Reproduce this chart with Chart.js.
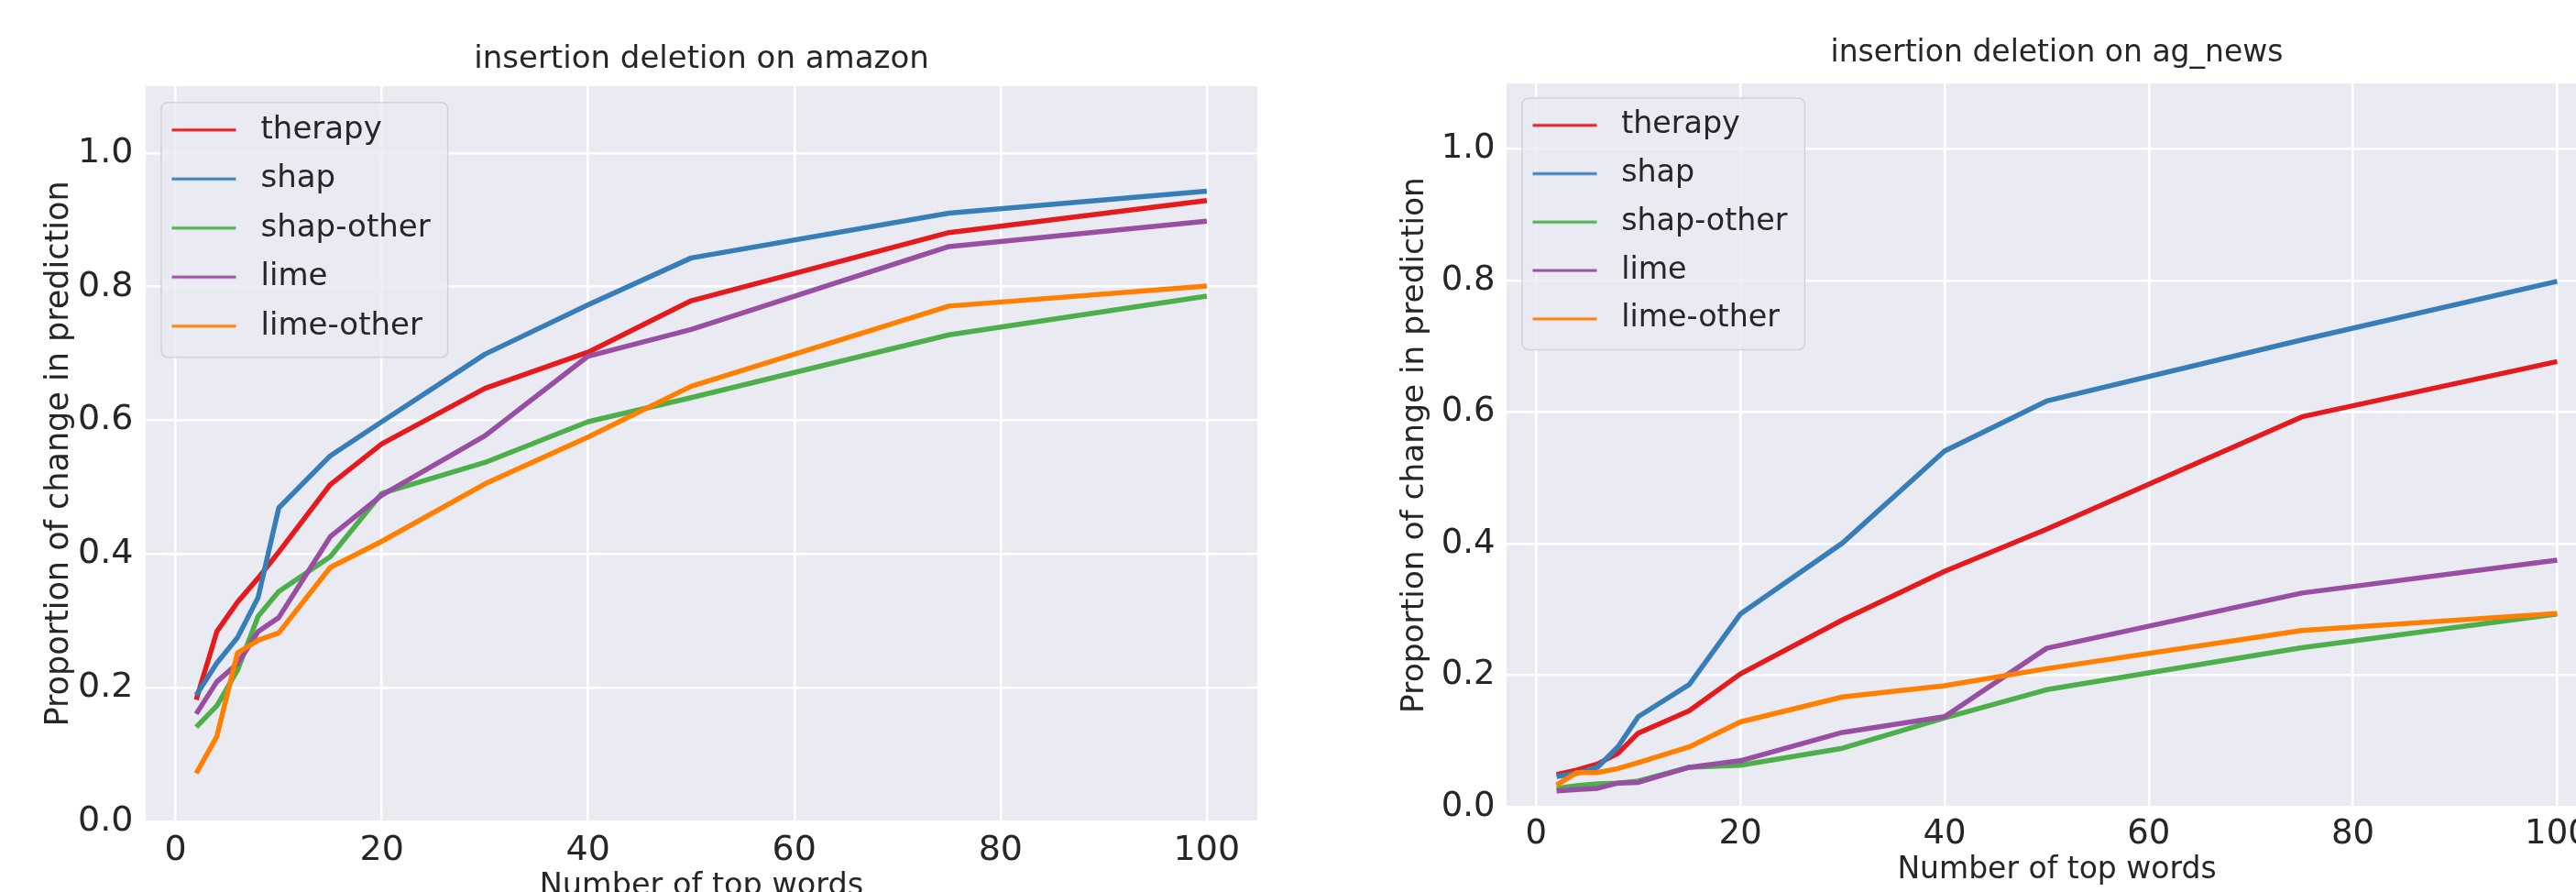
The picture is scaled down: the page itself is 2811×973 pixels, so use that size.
<!DOCTYPE html>
<html lang="en">
<head>
<meta charset="UTF-8">
<title>insertion deletion</title>
<script src="https://cdn.jsdelivr.net/npm/chart.js@4.4.0/dist/chart.umd.min.js"></script>
<style>
    html, body { margin: 0; padding: 0; overflow: hidden; background: #fff; }
    body { width: 2811px; height: 973px; position: relative; }
    canvas { position: absolute; top: 0; }
    #amazon { left: 0; }
    #agnews { left: 1480px; }
</style>
</head>
<body>
<canvas id="amazon" width="1400" height="1010"></canvas>
<canvas id="agnews" width="1365" height="973"></canvas>
<script>
const topWords = [2, 4, 6, 8, 10, 15, 20, 30, 40, 50, 75, 100];
const methods = ['therapy', 'shap', 'shap-other', 'lime', 'lime-other'];
const colors = ['#e41a1c', '#377eb8', '#4daf4a', '#984ea3', '#ff7f00'];
const xTicks = [0, 20, 40, 60, 80, 100];
const yTicks = [0, 0.2, 0.4, 0.6, 0.8, 1.0];

// amazon
const amazonTherapy   = [0.182, 0.284, 0.328, 0.364, 0.403, 0.504, 0.565, 0.648, 0.702, 0.779, 0.881, 0.929];
const amazonShap      = [0.189, 0.237, 0.275, 0.335, 0.469, 0.547, 0.598, 0.699, 0.773, 0.843, 0.910, 0.943];
const amazonShapOther = [0.141, 0.173, 0.226, 0.307, 0.344, 0.396, 0.491, 0.537, 0.598, 0.634, 0.728, 0.786];
const amazonLime      = [0.161, 0.209, 0.236, 0.284, 0.305, 0.426, 0.488, 0.577, 0.696, 0.736, 0.860, 0.898];
const amazonLimeOther = [0.072, 0.127, 0.252, 0.271, 0.282, 0.380, 0.419, 0.505, 0.575, 0.651, 0.771, 0.801];

// ag_news
const agTherapy   = [0.049, 0.056, 0.065, 0.081, 0.112, 0.146, 0.202, 0.284, 0.358, 0.422, 0.593, 0.677];
const agShap      = [0.046, 0.051, 0.060, 0.091, 0.137, 0.186, 0.293, 0.401, 0.541, 0.617, 0.710, 0.799];
const agShapOther = [0.028, 0.032, 0.035, 0.036, 0.039, 0.060, 0.063, 0.089, 0.135, 0.178, 0.242, 0.293];
const agLime      = [0.024, 0.026, 0.028, 0.036, 0.037, 0.060, 0.070, 0.113, 0.137, 0.241, 0.325, 0.375];
const agLimeOther = [0.033, 0.052, 0.052, 0.058, 0.067, 0.091, 0.129, 0.167, 0.184, 0.210, 0.268, 0.294];

Chart.defaults.font.family = 'DejaVu Sans';
Chart.defaults.color = '#262626';

// short coloured stroke used as the legend marker
function legendLine(color, width) {
    const c = document.createElement('canvas');
    c.width = 89; c.height = 6;
    const g = c.getContext('2d');
    g.strokeStyle = color;
    g.lineWidth = width;
    g.beginPath(); g.moveTo(9, 3); g.lineTo(79, 3); g.stroke();
    return c;
}

// seaborn style grey plot face
const plotBackground = {
    id: 'plotBackground',
    beforeDraw(chart) {
        const {ctx, chartArea: a} = chart;
        ctx.save();
        ctx.fillStyle = '#eaeaf2';
        ctx.fillRect(a.left, a.top, a.right - a.left, a.bottom - a.top);
        ctx.restore();
    }
};

// keep legend in the top left of the plot and give it a rounded frame
const legendFrame = {
    id: 'legendFrame',
    afterInit(chart) {
        const lg = chart.legend;
        const draw = lg.draw.bind(lg);
        lg.draw = function () {
            const b = lg.legendHitBoxes;
            if (b && b.length) {
                const ctx = chart.ctx;
                const l = Math.min(...b.map(h => h.left)) - 2.5;
                const t = Math.min(...b.map(h => h.top)) - 13;
                const r = Math.max(...b.map(h => h.left + h.width)) + 19;
                const bt = Math.max(...b.map(h => h.top + h.height)) + 17;
                ctx.save();
                ctx.beginPath();
                ctx.roundRect(l, t, r - l, bt - t, 7);
                ctx.fillStyle = 'rgba(234,234,242,0.8)';
                ctx.fill();
                ctx.strokeStyle = 'rgba(204,204,204,0.8)';
                ctx.lineWidth = 1.5;
                ctx.stroke();
                ctx.restore();
            }
            draw();
        };
    },
    afterLayout(chart) {
        const lg = chart.legend, a = chart.chartArea;
        const dx = a.left - lg.left, dy = a.top - lg.top;
        lg.left += dx; lg.right += dx; lg.top += dy; lg.bottom += dy;
    }
};

function buildChart(id, titleText, series, g) {
    const datasets = methods.map((m, i) => ({
        label: m,
        data: topWords.map((x, j) => ({x: x, y: series[i][j]})),
        borderColor: colors[i],
        backgroundColor: colors[i],
        borderWidth: g.line,
        borderJoinStyle: 'round',
        pointRadius: 0,
        pointHoverRadius: 0,
        pointStyle: legendLine(colors[i], 2.8),
        tension: 0,
        order: methods.length - i
    }));

    return new Chart(document.getElementById(id), {
        type: 'line',
        data: {datasets: datasets},
        plugins: [plotBackground, legendFrame],
        options: {
            responsive: false,
            animation: false,
            layout: {padding: {left: 0, right: g.padRight, top: 0, bottom: 0}},
            plugins: {
                title: {
                    display: true, text: titleText, fullSize: false,
                    font: {size: g.titleSize, weight: 'normal'},
                    padding: {top: g.titleTop, bottom: g.titleBottom}
                },
                legend: {
                    position: 'chartArea', align: 'start',
                    title: {display: true, text: ' ', font: {size: 1, lineHeight: 1}, padding: {top: g.legendTop - 1, bottom: 0}},
                    labels: {
                        usePointStyle: true, pointStyleWidth: 89,
                        padding: g.legendPad,
                        font: {size: g.legendSize},
                        sort: (a, b) => a.datasetIndex - b.datasetIndex
                    }
                },
                tooltip: {enabled: false}
            },
            scales: {
                x: {
                    type: 'linear', min: -2.9, max: 104.9,
                    afterBuildTicks: ax => { ax.ticks = xTicks.map(v => ({value: v})); },
                    afterFit: ax => { ax.height = g.xHeight; },
                    grid: {color: '#ffffff', lineWidth: 2.5, drawTicks: false, z: -1},
                    border: {display: false},
                    ticks: {font: {size: g.tickSize}, padding: g.xTickPad, maxRotation: 0, autoSkip: false},
                    title: {display: true, text: 'Number of top words', font: {size: g.xTitleSize}, padding: {top: 0, bottom: g.xTitleBottom}}
                },
                y: {
                    type: 'linear', min: 0, max: 1.1,
                    afterBuildTicks: ax => { ax.ticks = yTicks.map(v => ({value: v})); },
                    afterFit: ax => { ax.width = g.yWidth; },
                    grid: {color: '#ffffff', lineWidth: 2.5, drawTicks: false, z: -1},
                    border: {display: false},
                    ticks: {font: {size: g.tickSize}, padding: g.yTickPad, callback: v => v.toFixed(1)},
                    title: {display: true, text: 'Proportion of change in prediction', font: {size: g.yTitleSize}, padding: {top: g.yTitleTop, bottom: 0}}
                }
            }
        }
    });
}

buildChart('amazon', 'insertion deletion on amazon',
    [amazonTherapy, amazonShap, amazonShapOther, amazonLime, amazonLimeOther],
    {padRight: 28, titleSize: 34, titleTop: 44.5, titleBottom: 8.7,
     yWidth: 159, yTitleSize: 35, yTitleTop: 43.5, tickSize: 38, yTickPad: 13.5,
     xHeight: 114, xTickPad: 9, xTitleSize: 33.5, xTitleBottom: 23,
     legendSize: 34, legendPad: 19.5, legendTop: 11.2, line: 5.5});

buildChart('agnews', 'insertion deletion on ag_news',
    [agTherapy, agShap, agShapOther, agLime, agLimeOther],
    {padRight: 0, titleSize: 33, titleTop: 38.8, titleBottom: 12.6,
     yWidth: 164, yTitleSize: 34.4, yTitleTop: 43.4, tickSize: 37, yTickPad: 12.5,
     xHeight: 93, xTickPad: 8, xTitleSize: 33, xTitleBottom: 3.5,
     legendSize: 33.3, legendPad: 19.5, legendTop: 9.5, line: 5.5});
</script>
</body>
</html>
